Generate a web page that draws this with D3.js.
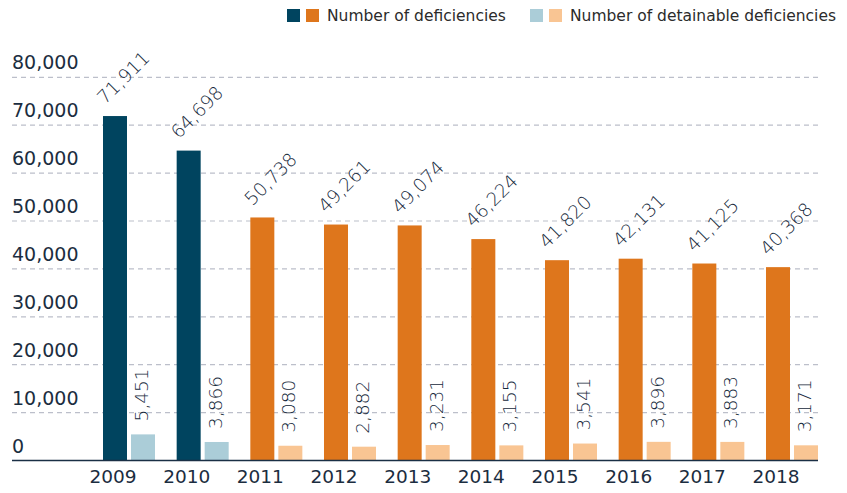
<html>
    <head>
        <script src="https://d3js.org/d3.v7.min.js"></script>
        <title>Deficiencies</title>
        <style>
            body { margin: 0; background: #fff; }
            text { font-family: "DejaVu Sans", sans-serif; }
        </style>
    </head>
    <body>
        <div class="viz"></div>
        <script type="text/javascript">
            var years = ["2009", "2010", "2011", "2012", "2013", "2014", "2015", "2016", "2017", "2018"];
            var deficiencies = [71911, 64698, 50738, 49261, 49074, 46224, 41820, 42131, 41125, 40368];
            var detainable = [5451, 3866, 3080, 2882, 3231, 3155, 3541, 3896, 3883, 3171];
            var yTicks = [0, 10000, 20000, 30000, 40000, 50000, 60000, 70000, 80000];
            var legendLabels = ["Number of deficiencies", "Number of detainable deficiencies"];

            var vizWidth = 847;
            var vizHeight = 493;
            var textColor = "#1b2d40";

            // first two years use the blue scheme, later ones orange
            function darkColor(i) { return i < 2 ? "#00445f" : "#de761c"; }
            function lightColor(i) { return i < 2 ? "#abcdd8" : "#f9c593"; }

            var svg = d3.select("div")
                        .append("svg")
                        .attr("width", vizWidth)
                        .attr("height", vizHeight);

            var xScale = d3.scaleBand()
                    .domain(years)
                    .range([103, 818])
                    .paddingInner(0.294)
                    .paddingOuter(0);

            var subScale = d3.scaleBand()
                    .domain([0, 1])
                    .range([0, xScale.bandwidth()])
                    .paddingInner(0.143);

            var yScale = d3.scaleLinear()
                    .domain([0, 80000])
                    .range([460.5, 77.3]);

            // gridlines
            svg.selectAll("line.grid")
                .data(yTicks.filter(function(d){ return d > 0; }))
                .enter()
                .append("line")
                .attr("class", "grid")
                .attr("x1", 12)
                .attr("x2", 818)
                .attr("y1", function(d){ return yScale(d); })
                .attr("y2", function(d){ return yScale(d); })
                .attr("stroke", "#bcbfca")
                .attr("stroke-width", 1.2)
                .attr("stroke-dasharray", "5,4");

            svg.selectAll("text.ytick")
                .data(yTicks)
                .enter()
                .append("text")
                .attr("class", "ytick")
                .attr("x", 12)
                .attr("y", function(d){ return yScale(d) - 8; })
                .attr("font-size", 19)
                .attr("fill", textColor)
                .text(function(d){ return d3.format(",")(d); });

            var groups = svg.selectAll("g.year")
                    .data(years)
                    .enter()
                    .append("g")
                    .attr("class", "year")
                    .attr("transform", function(d){ return "translate(" + xScale(d) + ",0)"; });

            groups.append("rect")
                .attr("x", subScale(0))
                .attr("width", subScale.bandwidth())
                .attr("y", function(d, i){ return yScale(deficiencies[i]); })
                .attr("height", function(d, i){ return yScale(0) - yScale(deficiencies[i]); })
                .attr("fill", function(d, i){ return darkColor(i); });

            groups.append("rect")
                .attr("x", subScale(1))
                .attr("width", subScale.bandwidth())
                .attr("y", function(d, i){ return yScale(detainable[i]); })
                .attr("height", function(d, i){ return yScale(0) - yScale(detainable[i]); })
                .attr("fill", function(d, i){ return lightColor(i); });

            groups.append("text")
                .attr("transform", function(d, i){
                    return "translate(" + (subScale(0) + 2) + "," + (yScale(deficiencies[i]) - 11) + ") rotate(-45)";
                })
                .attr("font-size", 18.5)
                .attr("font-weight", 200)
                .attr("fill", "#15283b")
                .text(function(d, i){ return d3.format(",")(deficiencies[i]); });

            groups.append("text")
                .attr("transform", function(d, i){
                    return "translate(" + (subScale(1) + 17) + "," + (yScale(detainable[i]) - 13) + ") rotate(-90)";
                })
                .attr("font-size", 18.5)
                .attr("font-weight", 200)
                .attr("fill", "#15283b")
                .text(function(d, i){ return d3.format(",")(detainable[i]); });

            groups.append("text")
                .attr("x", subScale(0) + subScale.bandwidth() / 2 - 2)
                .attr("y", 483)
                .attr("text-anchor", "middle")
                .attr("font-size", 18.5)
                .attr("fill", textColor)
                .text(function(d){ return d; });

            // baseline
            svg.append("line")
                .attr("x1", 12)
                .attr("x2", 818)
                .attr("y1", yScale(0))
                .attr("y2", yScale(0))
                .attr("stroke", "#1a2f45")
                .attr("stroke-width", 1.5);

            // legend
            var legendX = [287, 530];
            var legendColors = [["#00445f", "#de761c"], ["#abcdd8", "#f9c593"]];
            var legend = svg.selectAll("g.legend")
                    .data(legendLabels)
                    .enter()
                    .append("g")
                    .attr("class", "legend")
                    .attr("transform", function(d, i){ return "translate(" + legendX[i] + ",9)"; });

            legend.append("rect")
                .attr("width", 13).attr("height", 13)
                .attr("fill", function(d, i){ return legendColors[i][0]; });
            legend.append("rect")
                .attr("x", 19)
                .attr("width", 13).attr("height", 13)
                .attr("fill", function(d, i){ return legendColors[i][1]; });
            legend.append("text")
                .attr("x", 40)
                .attr("y", 12)
                .attr("font-size", 15.5)
                .attr("fill", "#2b2b2b")
                .text(function(d){ return d; });
        </script>
    </body>
</html>
